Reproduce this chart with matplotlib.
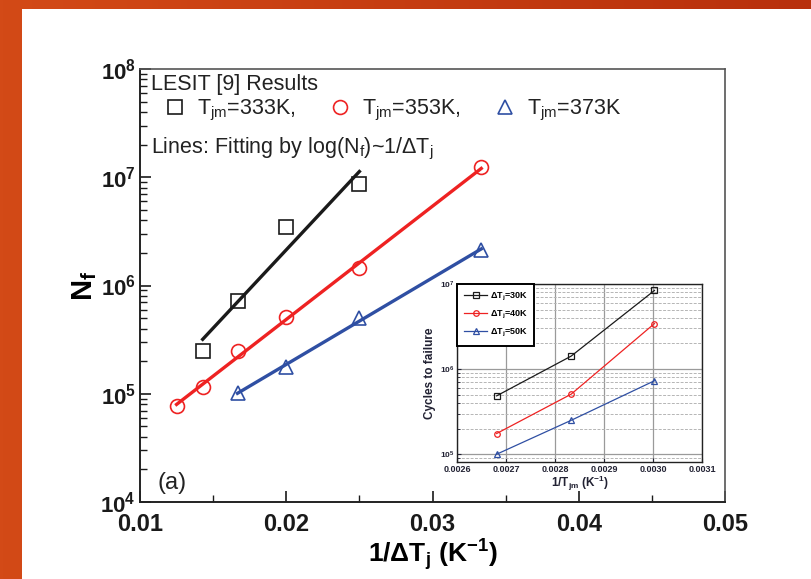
import numpy as np
import matplotlib
matplotlib.use("Agg")
import matplotlib.pyplot as plt
from matplotlib.lines import Line2D
from matplotlib.patches import Rectangle
from matplotlib.colors import LinearSegmentedColormap
from matplotlib.ticker import FixedLocator, LogLocator, FuncFormatter, NullFormatter, MultipleLocator

plt.rcParams['font.family'] = ['Liberation Sans', 'DejaVu Sans']
plt.rcParams['mathtext.fontset'] = 'custom'
plt.rcParams['mathtext.rm'] = 'Liberation Sans'
plt.rcParams['mathtext.it'] = 'Liberation Sans:italic'
plt.rcParams['mathtext.bf'] = 'Liberation Sans:bold'

# ---------------- data (main plot) ----------------
dT_333 = [70, 60, 50, 40]
Nf_333 = [2.5e5, 7.2e5, 3.45e6, 8.7e6]
dT_353 = [80, 70, 60, 50, 40, 30]
Nf_353 = [7.7e4, 1.15e5, 2.48e5, 5.1e5, 1.45e6, 1.24e7]
dT_373 = [60, 50, 40, 30]
Nf_373 = [1.02e5, 1.77e5, 5.0e5, 2.13e6]
labels_main = [r'T$_{\mathrm{jm}}$=333K,', r'T$_{\mathrm{jm}}$=353K,', r'T$_{\mathrm{jm}}$=373K']

# ---------------- data (inset) ----------------
Tjm_inset = [373, 353, 333]
cyc_30 = [4.85e5, 1.42e6, 8.4e6]
cyc_40 = [1.75e5, 5.07e5, 3.43e6]
cyc_50 = [1.0e5, 2.5e5, 7.3e5]
labels_inset = [r'$\mathbf{\Delta T_j}$=30K', r'$\mathbf{\Delta T_j}$=40K', r'$\mathbf{\Delta T_j}$=50K']

xticks_main = [0.01, 0.02, 0.03, 0.04, 0.05]
xticks_inset = [0.0026, 0.0027, 0.0028, 0.0029, 0.0030, 0.0031]

BLACK = '#1a1a1a'
RED = '#ee2222'
BLUE = '#2f4fa3'

W, H = 811, 579
fig = plt.figure(figsize=(W / 100, H / 100), dpi=100)

# background: orange frame with white page
bg = fig.add_axes([0, 0, 1, 1], zorder=-10)
grad = np.linspace(0, 1, 256)[None, :] * np.ones((16, 1))
cm = LinearSegmentedColormap.from_list('o', ['#d34a17', '#b8300c'])
bg.imshow(grad, cmap=cm, aspect='auto', extent=[0, 1, 0, 1])
bg.add_patch(Rectangle((22 / W, 0), 1, (H - 9) / H, facecolor='white', edgecolor='none'))
bg.set_xlim(0, 1); bg.set_ylim(0, 1)
bg.axis('off')

# ---------------- main axes ----------------
ax = fig.add_axes([140 / W, 77 / H, 585 / W, 433 / H])
ax.set_yscale('log')
ax.set_xlim(0.01, 0.05)
ax.set_ylim(1e4, 1e8)

series = [(dT_333, Nf_333, 's', BLACK), (dT_353, Nf_353, 'o', RED), (dT_373, Nf_373, '^', BLUE)]
handles = []
for (dT, Nf, mk, c), lab in zip(series, labels_main):
    x = 1.0 / np.array(dT, dtype=float)
    y = np.array(Nf)
    p = np.polyfit(x, np.log10(y), 1)
    xf = np.array([x.min(), x.max()])
    ax.plot(xf, 10 ** np.polyval(p, xf), color=c, lw=2.4, zorder=2)
    ax.plot(x, y, linestyle='none', marker=mk, ms=10, mfc='none', mec=c, mew=1.2, zorder=3)
    handles.append(Line2D([], [], linestyle='none', marker=mk, ms=10, mfc='none', mec=c, mew=1.2, label=lab))

ax.xaxis.set_major_locator(FixedLocator(xticks_main))
ax.xaxis.set_minor_locator(MultipleLocator(0.005))
ax.xaxis.set_major_formatter(FuncFormatter(lambda v, p: f'{v:.2f}'))
ax.yaxis.set_major_locator(LogLocator(base=10, numticks=10))
ax.yaxis.set_minor_locator(LogLocator(base=10, subs=np.arange(2, 10), numticks=10))
ax.yaxis.set_minor_formatter(NullFormatter())
ax.yaxis.set_major_formatter(FuncFormatter(lambda v, p: r'$\mathbf{10^{%d}}$' % round(np.log10(v))))
ax.tick_params(axis='both', which='both', direction='in', top=False, right=False, colors=BLACK)
ax.tick_params(axis='both', which='major', length=8, width=1.2)
ax.tick_params(axis='both', which='minor', length=5, width=1.0)
ax.tick_params(axis='x', which='major', labelsize=17, pad=8)
ax.tick_params(axis='y', which='major', labelsize=16, pad=3)
for lbl in ax.get_xticklabels():
    lbl.set_fontweight('bold')
for s in ['left', 'bottom']:
    ax.spines[s].set_color('#222222'); ax.spines[s].set_linewidth(1.4)
for s in ['top', 'right']:
    ax.spines[s].set_color('#555555'); ax.spines[s].set_linewidth(1.2)

ax.set_xlabel(r'1/$\mathbf{\Delta}$T$_{\mathbf{j}}$ (K$^{\mathbf{-1}}$)', fontsize=19, fontweight='bold', labelpad=1)
ax.set_ylabel(r'N$_{\mathbf{f}}$', fontsize=21, fontweight='bold', labelpad=1)

ax.text(0.018, 0.965, 'LESIT [9] Results', transform=ax.transAxes, fontsize=15.5, color='#222222', va='center', ha='left')
ax.text(0.018, 0.815, r'Lines: Fitting by log(N$_{\mathrm{f}}$)~1/$\Delta$T$_{\mathrm{j}}$', transform=ax.transAxes,
        fontsize=15.5, color='#222222', va='center', ha='left')
leg = ax.legend(handles=handles, loc='center left', bbox_to_anchor=(0.042, 0.905), ncol=3, frameon=False,
                fontsize=15.5, handlelength=1.0, handletextpad=0.52, columnspacing=1.56, borderaxespad=0, borderpad=0)
for t in leg.get_texts():
    t.set_color('#222222')
ax.text(0.03, 0.045, '(a)', transform=ax.transAxes, fontsize=17, color='#222222', va='center', ha='left')

# ---------------- inset ----------------
ins = fig.add_axes([457 / W, (H - 462) / H, 245 / W, 178 / H])
ins.set_yscale('log')
ins.set_xlim(0.0026, 0.0031)
ins.set_ylim(8.1e4, 1e7)
xi = 1.0 / np.array(Tjm_inset, dtype=float)
ih = []
for yv, mk, c, lab in [(cyc_30, 's', BLACK, labels_inset[0]), (cyc_40, 'o', RED, labels_inset[1]), (cyc_50, '^', BLUE, labels_inset[2])]:
    h, = ins.plot(xi, yv, color=c, lw=0.9, marker=mk, ms=4, mfc='none', mec=c, mew=0.9, label=lab)
    ih.append(h)
ins.xaxis.set_major_locator(FixedLocator(xticks_inset))
ins.xaxis.set_major_formatter(FuncFormatter(lambda v, p: f'{v:.4f}'))
ins.yaxis.set_major_locator(LogLocator(base=10, numticks=10))
ins.yaxis.set_minor_locator(LogLocator(base=10, subs=np.arange(2, 10), numticks=10))
ins.yaxis.set_minor_formatter(NullFormatter())
ins.yaxis.set_major_formatter(FuncFormatter(lambda v, p: r'$\mathbf{10^{%d}}$' % round(np.log10(v))))
ins.grid(True, which='major', color='#9a9a9a', lw=0.9, ls='-')
ins.grid(True, which='minor', axis='y', color='#b5b5b5', lw=0.7, ls=(0, (3, 1.5)))
ins.set_axisbelow(True)
ins.tick_params(axis='both', which='both', direction='in', top=False, right=False, colors='#222233')
ins.tick_params(axis='both', which='major', length=3, labelsize=6.5, pad=2)
ins.tick_params(axis='y', which='major', labelsize=6)
ins.tick_params(axis='both', which='minor', length=2)
for lbl in ins.get_xticklabels():
    lbl.set_fontweight('bold')
for s in ins.spines.values():
    s.set_color('#222222'); s.set_linewidth(1.0)
ins.set_xlabel(r'1/T$_{\mathbf{jm}}$ (K$^{\mathbf{-1}}$)', fontsize=8.5, fontweight='bold', labelpad=0, color='#222233')
ins.set_ylabel('Cycles to failure', fontsize=8.5, fontweight='bold', labelpad=3, color='#222233')
il = ins.legend(handles=ih, loc='upper left', borderaxespad=0, fancybox=False, framealpha=1, edgecolor='black',
                prop={'size': 6.5, 'weight': 'bold'}, handlelength=2.6, handletextpad=0.3, labelspacing=0.65,
                borderpad=0.75)
il.get_frame().set_linewidth(1.4)

fig.savefig('out.png', dpi=100)
